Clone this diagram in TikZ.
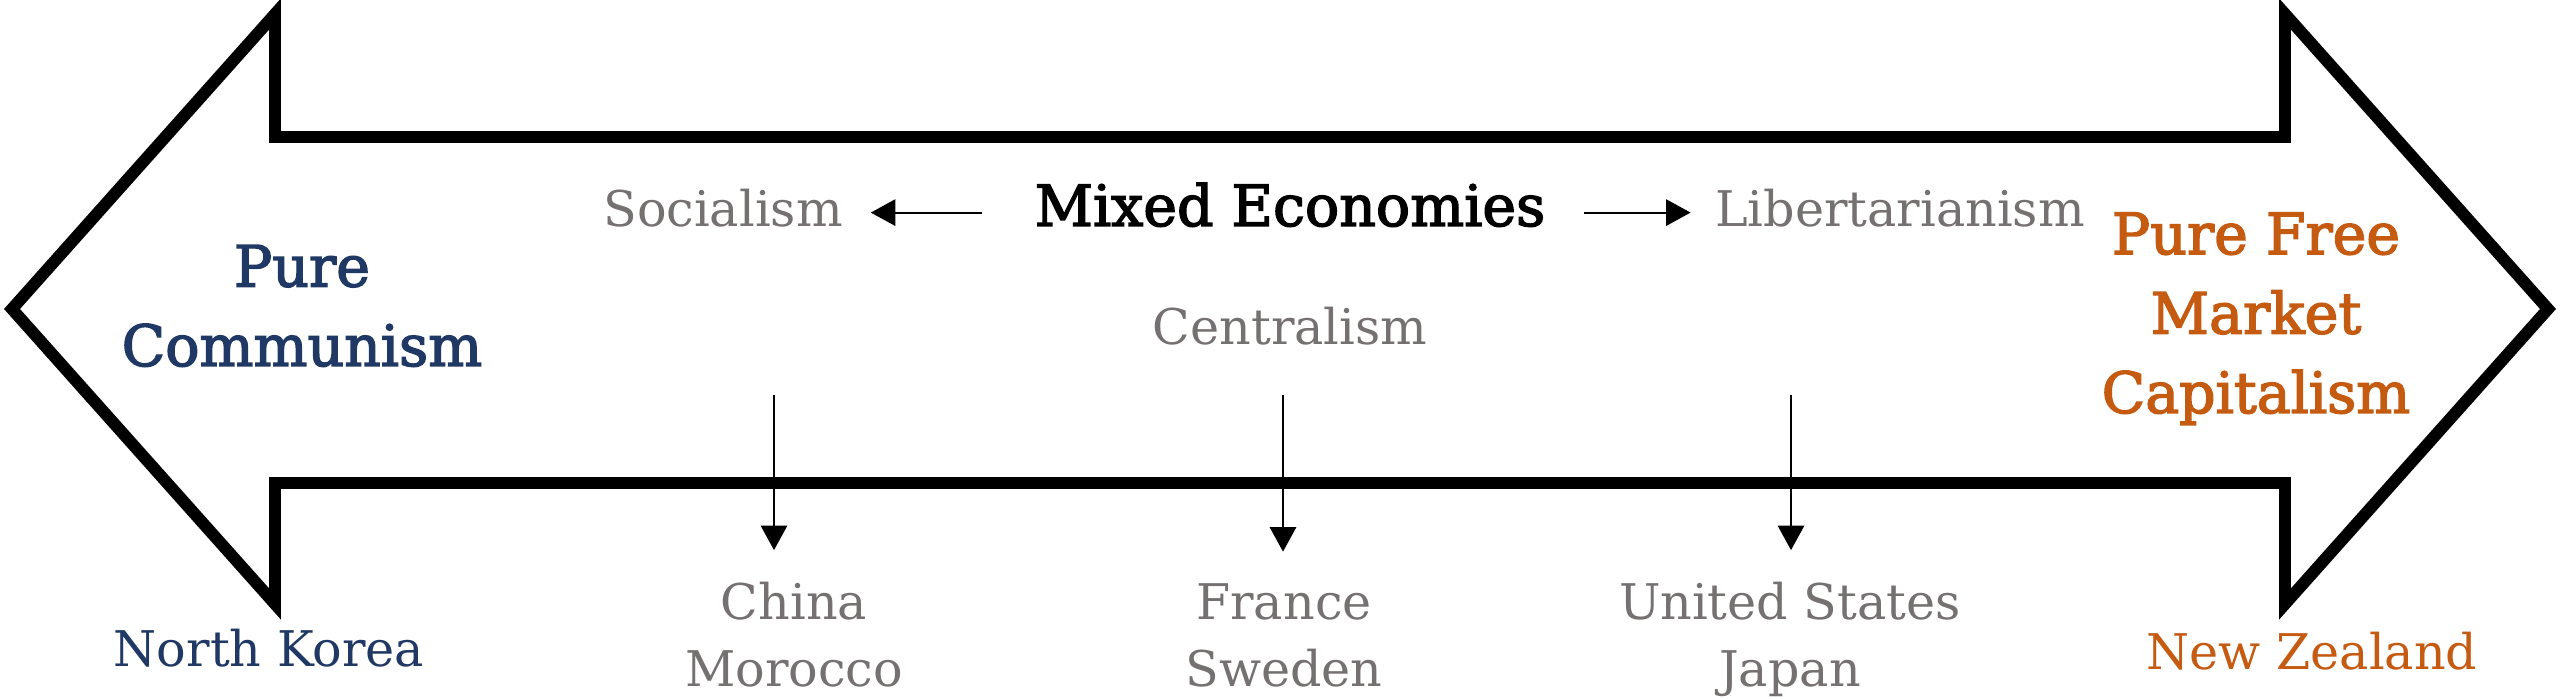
\documentclass[tikz,border=0pt]{standalone}
\usepackage{fontspec}
\setmainfont{DejaVu Serif}
\newfontfamily\medserif[FakeBold=2.5]{DejaVu Serif}
\newcommand*{\headfont}{\medserif\fontsize{16.2}{22.6}\selectfont}
\newcommand*{\mixfont}{\medserif\fontsize{16.2}{22.6}\selectfont}
\newcommand*{\notefont}{\fontsize{14}{19.3}\selectfont}
\definecolor{navy}{HTML}{203864}
\definecolor{rust}{HTML}{C55A11}
\definecolor{slate}{HTML}{767171}
\usetikzlibrary{arrows.meta}
\tikzstyle{canvas}=[x=0.1mm, y=-0.1mm, inner sep=0pt, outer sep=0pt]
\tikzstyle{outline}=[black, line width=3.4pt, line join=miter]
\tikzstyle{pointer}=[-{Triangle[length=7pt,width=7.5pt]}, line width=0.6pt]
\tikzstyle{head}=[anchor=base, align=center, font=\headfont]
\tikzstyle{note}=[anchor=base, align=center, font=\notefont, slate]

\begin{document}
\begin{tikzpicture}[canvas]
    \path [use as bounding box] (0,0) rectangle (2560,699);
    % the double arrow
    \draw [outline] (12,309) -- (275,14) -- (275,137) -- (2285,137) -- (2285,14)
        -- (2548,309) -- (2285,604) -- (2285,483) -- (275,483) -- (275,604) -- cycle;
    % the two ends
    \node [head, navy] (comm) at (302,366) {Pure\\Communism};
    \node [note, navy] (korea) at (269,667) {North Korea};
    \node [head, rust] (capital) at (2256,413) {Pure Free\\Market\\Capitalism};
    \node [note, rust] (zealand) at (2312,670) {New Zealand};
    % the middle
    \node [anchor=base, font=\mixfont] (mixed) at (1290,226) {Mixed Economies};
    \node [note] (social) at (723,227) {Socialism};
    \node [note] (liber) at (1900,227) {Libertarianism};
    \node [note] (central) at (1290,345) {Centralism};
    \draw [pointer, shorten <=15pt, shorten >=8pt, transform canvas={yshift=1.5pt}] (mixed.west |- social.mid) -- (social.mid east);
    \draw [pointer, shorten <=11pt, shorten >=7pt, transform canvas={yshift=1.5pt}] (mixed.east |- liber.mid) -- (liber.mid west);
    % countries
    \node [note] (china) at (794,687) {China\\Morocco};
    \node [note] (france) at (1284,687) {France\\Sweden};
    \node [note] (states) at (1790,687) {United States\\Japan};
    \coordinate (c1) at (774,395);
    \coordinate (c2) at (1283,395);
    \coordinate (c3) at (1791,395);
    \draw [pointer, shorten >=9pt] (c1) -- (c1 |- china.north);
    \draw [pointer, shorten >=9pt] (c2) -- (c2 |- france.north);
    \draw [pointer, shorten >=9pt] (c3) -- (c3 |- states.north);
\end{tikzpicture}
\end{document}
